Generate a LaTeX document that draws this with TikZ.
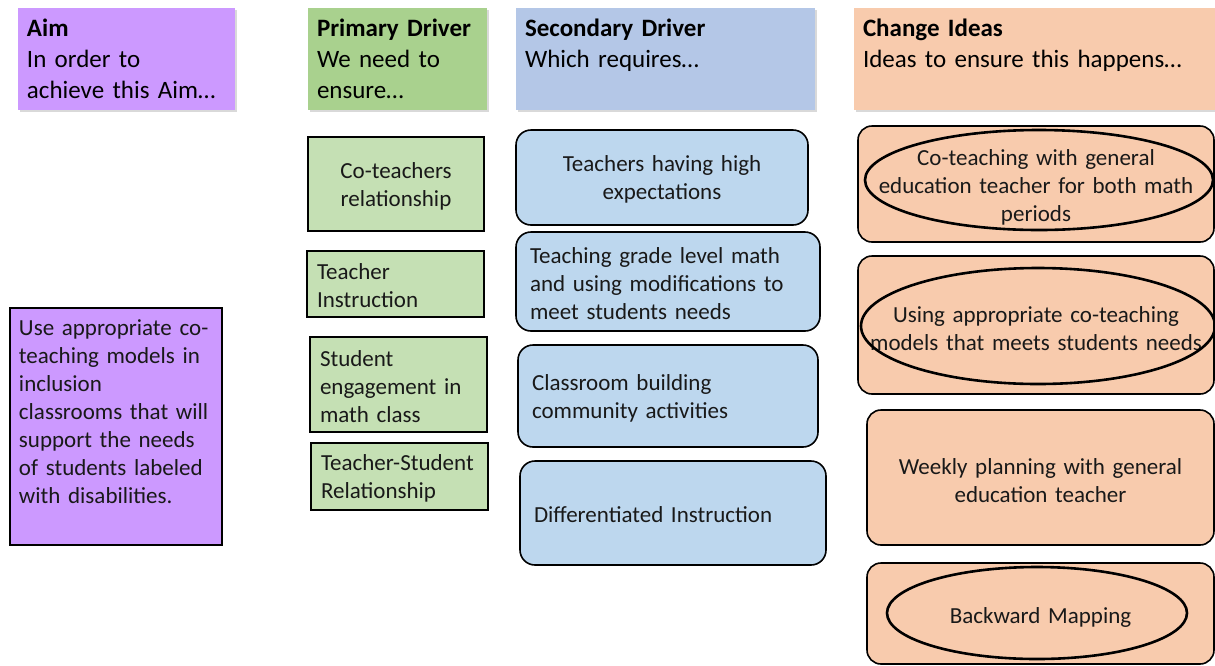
\documentclass[tikz,border=0pt]{standalone}
\usepackage{fontspec}
\setmainfont{Carlito}
\usetikzlibrary{shadows}

\definecolor{aimfill}{HTML}{CC99FF}
\definecolor{primhd}{HTML}{A9D18E}
\definecolor{sechd}{HTML}{B4C7E7}
\definecolor{ideahd}{HTML}{F8CBAD}
\definecolor{primcell}{HTML}{C5E0B4}
\definecolor{seccell}{HTML}{BDD7EE}
\definecolor{ideacell}{HTML}{F8CBAD}

\newcommand\hdrfont{\fontsize{25}{31}\selectfont}
\newcommand\cellfont{\fontsize{23}{28}\selectfont}

\tikzset{
  hdr/.style={anchor=north west, outer sep=0pt, inner xsep=9pt, inner ysep=6pt,
    align=left, font=\hdrfont, text height=22pt, text depth=68pt,
    drop shadow={shadow xshift=2pt, shadow yshift=-2pt, opacity=.3}},
  cell/.style={anchor=north west, draw, line width=1.6pt, outer sep=0pt,
    inner ysep=2pt, font=\cellfont, text=black!90},
  % taller first line pushes the text a little lower in the box
  lowtext/.style={execute at begin node={\rule{0pt}{#1}}},
  prim/.style={cell, lowtext=20pt, fill=primcell, inner xsep=10pt, align=left},
  sec/.style={cell, lowtext=20pt, fill=seccell, rounded corners=15pt, inner xsep=14pt, align=left},
  idea/.style={cell, lowtext=23pt, fill=ideacell, rounded corners=14pt, inner xsep=4pt, align=center},
  ring/.style={line width=2.6pt},
}

\begin{document}
\begin{tikzpicture}[x=1pt,y=-1pt]
  \useasboundingbox (0,0) rectangle (1215,665);

  % column headings
  \node[hdr, fill=aimfill, text width=199pt] (hd_aim) at (18,8)
    {\textbf{Aim}\\In order to\\achieve this Aim\dots};
  \node[hdr, fill=primhd, text width=161pt] (hd_prim) at (308,8)
    {\textbf{Primary Driver}\\We need to\\ensure\dots};
  \node[hdr, fill=sechd, text width=281pt] (hd_sec) at (516,8)
    {\textbf{Secondary Driver}\\Which requires\dots};
  \node[hdr, fill=ideahd, text width=343pt] (hd_idea) at (854,8)
    {\textbf{Change Ideas}\\Ideas to ensure this happens\dots};

  % aim
  \node[cell, fill=aimfill, inner xsep=9pt, inner ysep=6pt, align=left,
    text width=194pt, text height=21pt, text depth=204pt] (aim) at (10,308)
    {Use appropriate co-\\teaching models in\\inclusion\\classrooms that will\\support the needs\\of students labeled\\with disabilities.};

  % primary drivers
  \node[prim, align=center, text width=156pt, minimum height=94pt] (pd_1) at (308,137)
    {Co-teachers\\relationship};
  \node[prim, text width=157pt, minimum height=66pt] (pd_2) at (307,251)
    {Teacher\\Instruction};
  \node[prim, text width=157pt, minimum height=95pt] (pd_3) at (310,337)
    {Student\\engagement in\\math class};
  \node[prim, text width=157pt, minimum height=67pt] (pd_4) at (311,443)
    {Teacher-Student\\Relationship};

  % secondary drivers
  \node[sec, align=center, text width=264pt, minimum height=95pt] (sd_1) at (516,130)
    {Teachers having high\\expectations};
  \node[sec, text width=276pt, minimum height=99pt] (sd_2) at (516,232)
    {Teaching grade level math\\and using modifications to\\meet students needs};
  \node[sec, text width=272pt, minimum height=102pt] (sd_3) at (518,345)
    {Classroom building\\community activities};
  \node[sec, text width=278pt, minimum height=104pt] (sd_4) at (520,461)
    {Differentiated Instruction};

  % change ideas
  \node[idea, text width=348pt, minimum height=116pt] (ci_1) at (858,126)
    {Co-teaching with general\\education teacher for both math\\periods};
  \node[idea, text width=348pt, minimum height=138pt] (ci_2) at (858,256)
    {Using appropriate co-teaching\\models that meets students needs};
  \node[idea, text width=339pt, minimum height=135pt] (ci_3) at (867,410)
    {Weekly planning with general\\education teacher};
  \node[idea, text width=339pt, minimum height=101pt] (ci_4) at (867,563)
    {Backward Mapping};

  % circled ideas
  \draw[ring] (1039,180) ellipse (174 and 50);
  \draw[ring] (1038,326) ellipse (177 and 58);
  \draw[ring] (1037,613) ellipse (150 and 46);
\end{tikzpicture}
\end{document}
